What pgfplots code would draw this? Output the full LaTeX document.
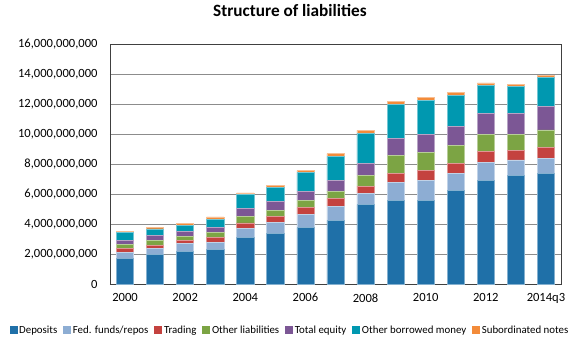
\documentclass[border=0pt]{standalone}
\usepackage{fontspec}
\setmainfont{Carlito}
\usepackage{pgfplots}
\pgfplotsset{compat=1.18}
\usepackage{pgfplotstable}
\definecolor{cDep}{HTML}{1F70A8}
\definecolor{cFed}{HTML}{8DADD3}
\definecolor{cTrd}{HTML}{C4423F}
\definecolor{cOth}{HTML}{7CA444}
\definecolor{cEq}{HTML}{7C5795}
\definecolor{cObm}{HTML}{0098B0}
\definecolor{cSub}{HTML}{F38B3A}
\pgfplotstableread{
x dep fed trd oth eq obm sub
0 1.73e9 0.40e9 0.27e9 0.24e9 0.27e9 0.51e9 0.09e9
1 1.96e9 0.44e9 0.18e9 0.33e9 0.33e9 0.43e9 0.11e9
2 2.16e9 0.53e9 0.22e9 0.27e9 0.31e9 0.44e9 0.09e9
3 2.29e9 0.51e9 0.31e9 0.31e9 0.36e9 0.55e9 0.14e9
4 3.09e9 0.62e9 0.36e9 0.46e9 0.51e9 0.92e9 0.11e9
5 3.36e9 0.77e9 0.38e9 0.40e9 0.58e9 0.95e9 0.14e9
6 3.76e9 0.88e9 0.45e9 0.47e9 0.62e9 1.24e9 0.14e9
7 4.24e9 0.94e9 0.51e9 0.51e9 0.69e9 1.62e9 0.18e9
8 5.29e9 0.75e9 0.49e9 0.71e9 0.78e9 2.02e9 0.20e9
9 5.60e9 1.16e9 0.64e9 1.16e9 1.17e9 2.23e9 0.22e9
10 5.60e9 1.29e9 0.71e9 1.16e9 1.22e9 2.26e9 0.20e9
11 6.22e9 1.14e9 0.66e9 1.22e9 1.27e9 2.07e9 0.20e9
12 6.89e9 1.24e9 0.69e9 1.18e9 1.38e9 1.86e9 0.16e9
13 7.22e9 1.05e9 0.64e9 1.09e9 1.38e9 1.78e9 0.17e9
14 7.36e9 1.02e9 0.71e9 1.18e9 1.55e9 1.94e9 0.17e9
}\datatable
\begin{document}
\begin{tikzpicture}
\path[use as bounding box] (-110bp,-60bp) rectangle (469bp,284bp);
\begin{axis}[
  at={(0,0)}, anchor=south west,
  scale only axis, width=451bp, height=240bp,
  ybar stacked, bar width=0.57,
  xmin=-0.5, xmax=14.5, ymin=0, ymax=16e9,
  xtick={0,2,4,6,8,10,12,14},
  xticklabels={2000,2002,2004,2006,2008,2010,2012,2014q3},
  ytick={0,2000000000,4000000000,6000000000,8000000000,10000000000,12000000000,14000000000,16000000000},
  scaled y ticks=false,
  /pgf/number format/assume math mode=true,
  yticklabel style={/pgf/number format/fixed, /pgf/number format/precision=0, /pgf/number format/1000 sep={,}, xshift=-9bp},
  tick label style={font=\fontsize{12.6}{14}\selectfont},
  xticklabel style={yshift=-6bp},
  tick style={draw=none},
  ymajorgrids, grid style={black!45, line width=0.8bp},
  axis line style={black!75, line width=0.8bp},
  title={Structure of liabilities},
  title style={at={(0.399,1)}, anchor=base, yshift=22bp, font=\bfseries\fontsize{17.3}{19}\selectfont},
  legend style={at={(0.399,-0.192)}, anchor=center, draw=none, fill=none,
    legend columns=-1, font=\fontsize{10.9}{12}\selectfont,
    /tikz/every even column/.append style={column sep=4bp},
    /tikz/every odd column/.append style={column sep=0bp}},
]
\addplot[fill=cDep, draw=cDep!55!white, line width=0.6bp, legend image code/.code={\fill[cDep] (0bp,-3.5bp) rectangle (7bp,3.5bp);}] table[x=x,y=dep] {\datatable};
\addlegendentry{Deposits}
\addplot[fill=cFed, draw=cFed!55!white, line width=0.6bp, legend image code/.code={\fill[cFed] (0bp,-3.5bp) rectangle (7bp,3.5bp);}] table[x=x,y=fed] {\datatable};
\addlegendentry{Fed. funds/repos}
\addplot[fill=cTrd, draw=cTrd!55!white, line width=0.6bp, legend image code/.code={\fill[cTrd] (0bp,-3.5bp) rectangle (7bp,3.5bp);}] table[x=x,y=trd] {\datatable};
\addlegendentry{Trading}
\addplot[fill=cOth, draw=cOth!55!white, line width=0.6bp, legend image code/.code={\fill[cOth] (0bp,-3.5bp) rectangle (7bp,3.5bp);}] table[x=x,y=oth] {\datatable};
\addlegendentry{Other liabilities}
\addplot[fill=cEq, draw=cEq!55!white, line width=0.6bp, legend image code/.code={\fill[cEq] (0bp,-3.5bp) rectangle (7bp,3.5bp);}] table[x=x,y=eq] {\datatable};
\addlegendentry{Total equity}
\addplot[fill=cObm, draw=cObm!55!white, line width=0.6bp, legend image code/.code={\fill[cObm] (0bp,-3.5bp) rectangle (7bp,3.5bp);}] table[x=x,y=obm] {\datatable};
\addlegendentry{Other borrowed money}
\addplot[fill=cSub, draw=cSub!55!white, line width=0.6bp, legend image code/.code={\fill[cSub] (0bp,-3.5bp) rectangle (7bp,3.5bp);}] table[x=x,y=sub] {\datatable};
\addlegendentry{Subordinated notes}
\end{axis}
\end{tikzpicture}
\end{document}
